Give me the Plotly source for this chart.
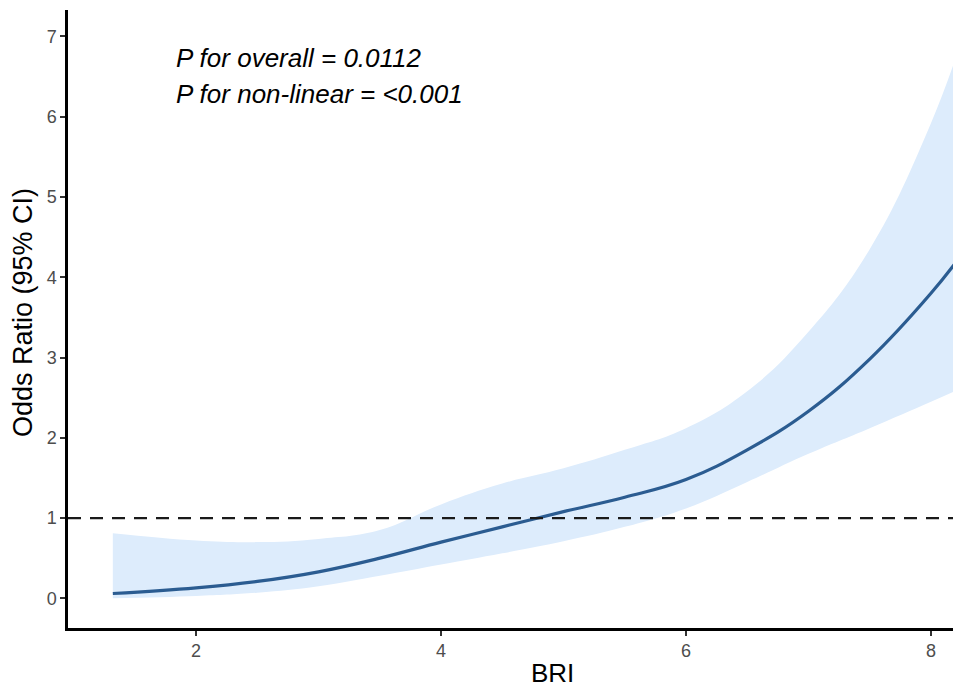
import plotly.graph_objects as go

bri = [1.32, 2.0, 2.5, 3.0, 3.5, 4.0, 4.5, 5.0, 5.5, 6.0, 6.5, 7.0, 7.5, 8.0, 8.25]
ci_lower = [0.00, 0.03, 0.07, 0.15, 0.28, 0.42, 0.56, 0.71, 0.89, 1.12, 1.45, 1.80, 2.12, 2.45, 2.62]
or_est = [0.06, 0.13, 0.21, 0.33, 0.50, 0.70, 0.89, 1.08, 1.26, 1.48, 1.85, 2.33, 2.98, 3.80, 4.28]
ci_upper = [0.81, 0.72, 0.70, 0.74, 0.85, 1.17, 1.43, 1.62, 1.85, 2.12, 2.58, 3.32, 4.35, 5.92, 6.95]

x_ticks = [2, 4, 6, 8]
y_ticks = [0, 1, 2, 3, 4, 5, 6, 7]

FONT = "Liberation Sans, Arial, sans-serif"

fig = go.Figure()
fig.add_trace(go.Scatter(x=bri, y=ci_lower, mode="lines", line=dict(width=0, shape="spline", smoothing=1.2),
                         showlegend=False, hoverinfo="skip"))
fig.add_trace(go.Scatter(x=bri, y=ci_upper, mode="lines", line=dict(width=0, shape="spline", smoothing=1.2),
                         fill="tonexty", fillcolor="rgb(221,236,252)", showlegend=False))
fig.add_trace(go.Scatter(x=bri, y=or_est, mode="lines",
                         line=dict(color="#2b5c91", width=3.2, shape="spline", smoothing=1.2),
                         showlegend=False))

fig.add_shape(type="line", xref="paper", x0=0, x1=1, yref="y", y0=1, y1=1,
              line=dict(color="#1a1a1a", width=2.2, dash="13px,9px"))

fig.add_annotation(x=1.82, y=(598 - 58) / 80.2, xref="x", yref="y",
                   text="<i>P for overall = 0.0112</i>",
                   showarrow=False, xanchor="left", yanchor="middle",
                   font=dict(family=FONT, size=26, color="black"))
fig.add_annotation(x=1.82, y=(598 - 94) / 80.2, xref="x", yref="y",
                   text="<i>P for non-linear = <0.001</i>",
                   showarrow=False, xanchor="left", yanchor="middle",
                   font=dict(family=FONT, size=26, color="black"))

fig.add_annotation(x=(552 - 68) / (953 - 68), y=-(673 - 628) / (628 - 10), xref="paper", yref="paper",
                   text="BRI", showarrow=False, xanchor="center", yanchor="middle",
                   font=dict(family=FONT, size=26, color="black"))
fig.add_annotation(x=-(68 - 23) / (953 - 68), y=(628 - 313) / (628 - 10), xref="paper", yref="paper",
                   text="Odds Ratio (95% CI)", showarrow=False, xanchor="center", yanchor="middle",
                   textangle=-90, font=dict(family=FONT, size=27, color="black"))

fig.update_layout(
    width=953, height=688,
    margin=dict(l=68, r=0, t=10, b=60),
    paper_bgcolor="white", plot_bgcolor="white",
    font=dict(family=FONT, color="black"),
    xaxis=dict(range=[0.954, 8.18], tickvals=x_ticks, showgrid=False, zeroline=False,
               showline=True, linecolor="black", linewidth=2.5, ticks="outside",
               ticklen=5, tickwidth=1.5, tickcolor="#333333",
               tickfont=dict(size=18, color="#4d4d4d")),
    yaxis=dict(range=[-0.37, 7.33], tickvals=y_ticks, showgrid=False, zeroline=False,
               showline=True, linecolor="black", linewidth=2.5, ticks="outside",
               ticklen=5, tickwidth=1.5, tickcolor="#333333",
               tickfont=dict(size=18, color="#4d4d4d")),
)

fig.write_html("out.html", config={"displayModeBar": False},
               post_script="document.body.style.margin='0';document.body.style.overflow='hidden';")
